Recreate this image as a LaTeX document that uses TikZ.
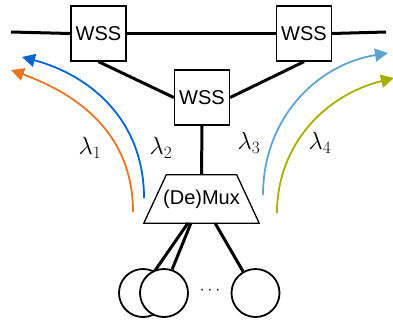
\documentclass[tikz,border=0pt]{standalone}
\usepackage{fontspec}
\setmainfont{Liberation Sans}
\usetikzlibrary{arrows.meta,calc}
\definecolor{corange}{RGB}{228,118,36}
\definecolor{cblue}{RGB}{0,102,204}
\definecolor{clblue}{RGB}{96,164,206}
\definecolor{colive}{RGB}{168,174,0}
\tikzset{
  wss/.style={draw,line width=1.3pt,minimum width=55pt,minimum height=55pt,inner sep=0pt,font=\fontsize{20}{22}\selectfont,fill=white},
  fiber/.style={line width=3pt},
  dev/.style={draw,circle,line width=1.8pt,minimum size=48pt,inner sep=0pt,fill=white},
  wl/.style={line width=1.8pt,-{Triangle[length=13pt,width=13pt]}},
  lab/.style={font=\fontsize{25}{28}\selectfont}
}
\begin{document}
\begin{tikzpicture}[x=1pt,y=-1pt]
\useasboundingbox (0,0) rectangle (393,322);
\node[wss] (w1) at (98.5,33.5) {WSS};
\node[wss] (w2) at (304,33.5) {WSS};
\node[wss] (w3) at (202,97.5) {WSS};
\coordinate (l) at (11,32);
\coordinate (r) at (386,32);
\draw[fiber] (l) -- (w1.west);
\draw[fiber] (w1.east) -- (w2.west);
\draw[fiber] (w2.east) -- (r);
\draw[fiber] (w1.south) -- (w3.west);
\draw[fiber] (w2.south) -- (w3.east);
\node[minimum width=115pt,minimum height=48pt,inner sep=0pt,font=\fontsize{20}{22}\selectfont] (mux) at (201.5,199) {(De)Mux};
\draw[line width=1.3pt,line join=miter] (mux.south west) -- (mux.south east) -- ($(mux.north east)+(-22.5,0)$) -- ($(mux.north west)+(22.5,0)$) -- cycle;
\draw[fiber] (w3.south) -- (mux.north);
\node[dev] (c1) at (143,293) {};
\node[dev] (c3) at (255.5,293) {};
\coordinate (m1) at (188,223);
\coordinate (m2) at (191,223);
\coordinate (m3) at (215,223);
\draw[fiber] (m1) -- (c1.62);
\draw[fiber] (m3) -- (c3.120);
\node[dev] (c2) at (164,293) {};
\draw[fiber] (m2) -- (c2.71);
\node[font=\fontsize{18}{20}\selectfont] (dots) at (210,291) {$\cdots$};
\coordinate (o0) at (133,212); \coordinate (o1) at (11,70);
\coordinate (b0) at (144,198); \coordinate (b1) at (22,57);
\coordinate (lb0) at (263,195); \coordinate (lb1) at (388,53);
\coordinate (g0) at (277,213); \coordinate (g1) at (394,78);
\draw[wl,corange] (o0) .. controls (133,135) and (80,95) .. (o1);
\draw[wl,cblue] (b0) .. controls (144,120) and (90,75) .. (b1);
\draw[wl,clblue] (lb0) .. controls (263,120) and (315,65) .. (lb1);
\draw[wl,colive] (g0) .. controls (277,145) and (325,95) .. (g1);
\node[lab] (t1) at (90,148) {$\lambda_1$};
\node[lab] (t2) at (161,148) {$\lambda_2$};
\node[lab] (t3) at (249,143) {$\lambda_3$};
\node[lab] (t4) at (320,143) {$\lambda_4$};
\end{tikzpicture}
\end{document}
